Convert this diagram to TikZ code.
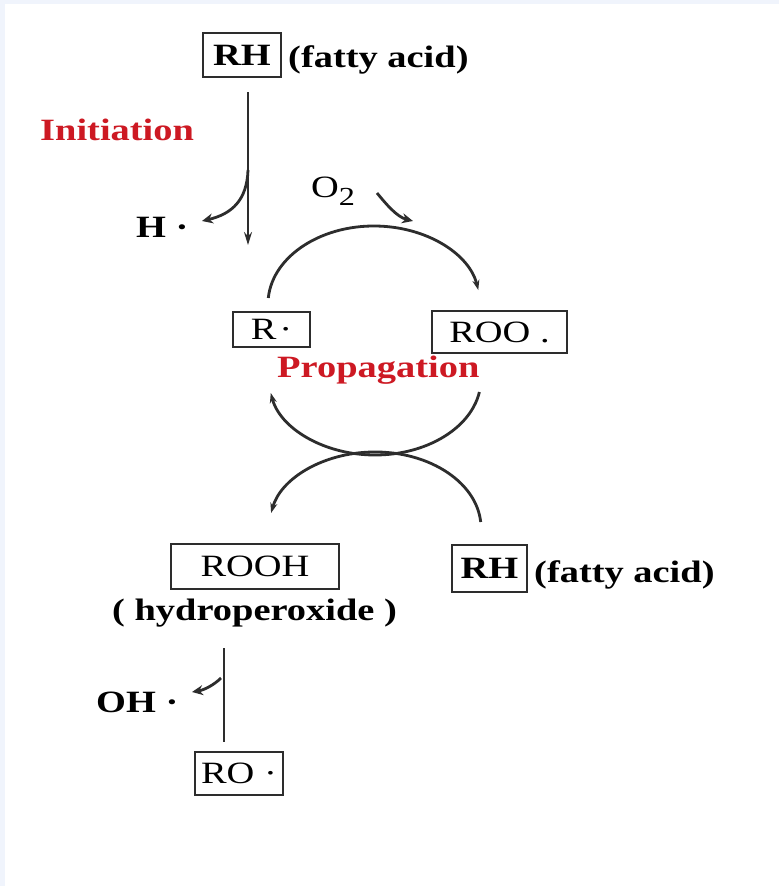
\documentclass[tikz,border=0pt]{standalone}
\usepackage{fontspec}
\setmainfont[FakeStretch=1.24]{Liberation Serif}
\usetikzlibrary{arrows.meta}
\definecolor{bandblue}{RGB}{240,244,252}
\definecolor{redtxt}{RGB}{205,25,35}
\definecolor{ink}{RGB}{45,45,45}
\begin{document}
\begin{tikzpicture}[x=1pt,y=1pt,
  lbl/.style={inner sep=0pt, font=\fontsize{31}{31}\selectfont, text=black},
  lblb/.style={inner sep=0pt, font=\fontsize{31}{31}\selectfont\bfseries, text=black},
  redlbl/.style={inner sep=0pt, font=\fontsize{31}{31}\selectfont\bfseries, text=redtxt},
  chembox/.style={draw=ink, line width=1.4pt, inner sep=0pt},
  cyc/.style={draw=ink, line width=2.8pt, -{Stealth[length=10pt,width=7pt]}},
  vline/.style={draw=ink, line width=2pt},
  varr/.style={draw=ink, line width=2pt, -{Stealth[length=13pt,width=8pt]}},
  harr/.style={draw=ink, line width=2.8pt, -{Stealth[length=11pt,width=10pt]}}]
\useasboundingbox (0,0) rectangle (779,-886);
\fill[bandblue] (0,0) rectangle (779,-886);
\fill[white] (5,-4) rectangle (779,-886);

% top RH
\node[chembox, lblb, minimum width=78pt, minimum height=44pt] (rh1) at (242,-55) {RH};
\node[lblb, anchor=base west] (fa1) at (288,-67) {(fatty acid)};
\node[redlbl, anchor=base west] (init) at (40,-140) {Initiation};

% initiation arrows
\coordinate (vtop) at (248,-92);
\coordinate (vbot) at (248,-245);
\coordinate (hbr) at (248,-170);
\coordinate (htip) at (202,-221);
\draw[varr] (vtop) -- (vbot);
\draw[harr] (hbr) .. controls (247,-200) and (232,-214) .. (htip);
\node[lblb, anchor=base west] (hdot) at (136,-237) {H ·};

% O2
\node[lbl, anchor=base west] (o2) at (311,-197) {O\raisebox{-8pt}{\fontsize{26}{26}\selectfont 2}};
\coordinate (o2s) at (377,-193);
\coordinate (o2e) at (413,-221);
\draw[harr] (o2s) .. controls (386,-204) and (397,-217) .. (o2e);

% propagation cycle
\node[chembox, lbl, minimum width=77pt, minimum height=35pt] (rdot) at (271.5,-329.5) {R\hspace{3pt}·};
\node[chembox, lbl, minimum width=135pt, minimum height=42pt] (roo) at (499.5,-332) {ROO .};
\node[redlbl, anchor=base west] (prop) at (277,-377) {Propagation};

\coordinate (ua) at (268.3,-298);
\draw[cyc] (ua) arc[start angle=175.6, end angle=10.3, x radius=106, y radius=78];
\coordinate (la) at (479.4,-392);
\draw[cyc] (la) arc[start angle=350.15, end angle=190.6, x radius=106, y radius=76];
\coordinate (ba) at (480.7,-522);
\draw[cyc] (ba) arc[start angle=4.5, end angle=168.6, x radius=106, y radius=76];

% bottom
\node[chembox, lbl, minimum width=168pt, minimum height=45pt] (rooh) at (255,-566.5) {ROOH};
\node[lblb, anchor=base west] (hyd) at (112,-620) {( hydroperoxide )};
\node[chembox, lblb, minimum width=75pt, minimum height=47pt] (rh2) at (489.5,-568.5) {RH};
\node[lblb, anchor=base west] (fa2) at (534,-582) {(fatty acid)};

\node[chembox, lbl, minimum width=88pt, minimum height=43pt] (ro) at (239,-773.5) {RO ·};
\node[lblb, anchor=base west] (oh) at (96,-712) {OH ·};
\coordinate (ltop) at (224,-648);
\coordinate (lbot) at (224,-742);
\draw[vline] (ltop) -- (lbot);
\coordinate (ohs) at (221,-678);
\coordinate (ohe) at (192,-692);
\draw[harr] (ohs) .. controls (214,-685) and (204,-690) .. (ohe);
\end{tikzpicture}
\end{document}
